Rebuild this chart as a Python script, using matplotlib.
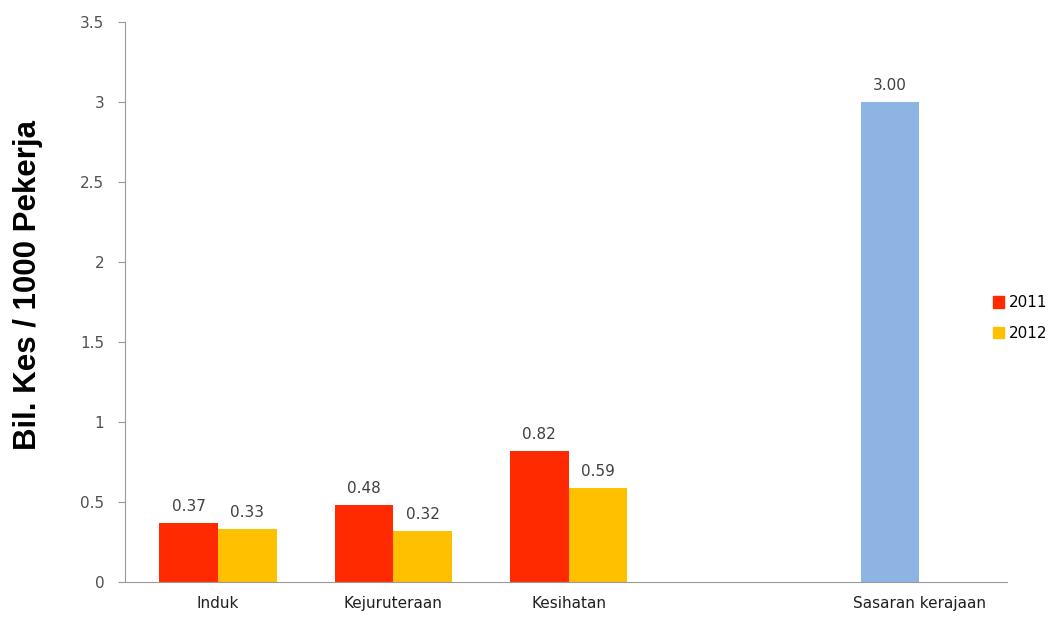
import numpy as np
import matplotlib
matplotlib.use("Agg")
import matplotlib.pyplot as plt
from matplotlib.patches import Patch

categories = ["Induk", "Kejuruteraan", "Kesihatan", "", "Sasaran kerajaan"]
values_2011 = [0.37, 0.48, 0.82, np.nan, 3.00]
values_2012 = [0.33, 0.32, 0.59, np.nan, np.nan]
series_names = ["2011", "2012"]
ylabel = "Bil. Kes / 1000 Pekerja"
yticks = [0, 0.5, 1, 1.5, 2, 2.5, 3, 3.5]
ytick_labels = ["0", "0.5", "1", "1.5", "2", "2.5", "3", "3.5"]

c2011 = "#FF2A00"
c2012 = "#FFC000"
ctarget = "#8DB4E2"
FONT = "DejaVu Sans"
FS = 11

fig = plt.figure(figsize=(10.61, 6.17), dpi=100)
ax = fig.add_axes([125/1061, 1-582/617, (1007-125)/1061, (582-22)/617])

x = np.arange(len(categories))
w = 0.335
cols_2011 = [c2011]*4 + [ctarget]
b1 = ax.bar(x - w/2, values_2011, w, color=cols_2011, label=series_names[0])
b2 = ax.bar(x + w/2, values_2012, w, color=c2012, label=series_names[1])

for bars, vals in ((b1, values_2011), (b2, values_2012)):
    for rect, v in zip(bars, vals):
        if np.isnan(v):
            continue
        ax.annotate(f"{v:.2f}", (rect.get_x() + rect.get_width()/2, v),
                    xytext=(0, 6.5), textcoords="offset points",
                    ha="center", va="bottom", fontsize=FS,
                    family=FONT, color="#404040")

ax.set_xlim(-0.53, 4.5)
ax.set_ylim(0, 3.5)
ax.set_yticks(yticks)
ax.set_yticklabels(ytick_labels, family=FONT, fontsize=FS, color="#505050")
ax.set_xticks(x)
ax.set_xticklabels(categories, family=FONT, fontsize=FS, color="#202020")
ax.tick_params(axis="x", length=0, pad=10)
ax.tick_params(axis="y", length=5, color="#999999", pad=10)
for s in ("top", "right"):
    ax.spines[s].set_visible(False)
ax.spines["left"].set_color("#999999")
ax.spines["bottom"].set_color("#999999")

ax.set_ylabel(ylabel, family=["Liberation Sans", "Arial"], fontweight="bold",
              fontsize=22.5, color="#000000")
ax.yaxis.set_label_coords(-82/882, 0.53)

handles = [Patch(color=c2011), Patch(color=c2012)]
fig.legend(handles, series_names, loc="center left",
           bbox_to_anchor=(979/1061, 1-318/617), frameon=False,
           handlelength=0.75, handleheight=0.75, handletextpad=0.3,
           labelspacing=1.0, prop={"family": FONT, "size": FS})

fig.savefig("out.png", dpi=100, facecolor="white")
